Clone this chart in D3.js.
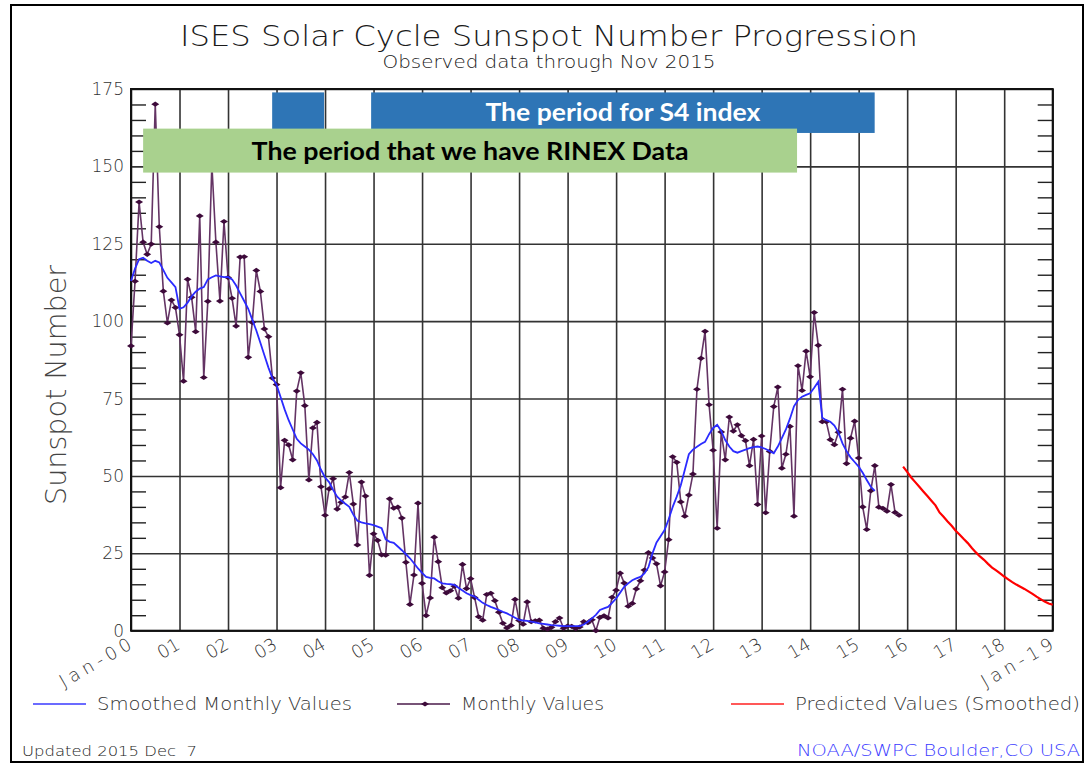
<!DOCTYPE html>
<html>
<head>
<meta charset="utf-8">
<script src="https://cdn.jsdelivr.net/npm/d3@7.9.0/dist/d3.min.js"></script>
<style>
  body { margin: 0; background: #fff; }
  svg text { font-family: "DejaVu Sans", sans-serif; white-space: pre; }
</style>
</head>
<body>
<svg id="chart" width="1087" height="765"></svg>
<script>
// ---- data ----
const xTickLabels = ['Jan-00', '01', '02', '03', '04', '05', '06', '07', '08', '09',
  '10', '11', '12', '13', '14', '15', '16', '17', '18', 'Jan-19'];
const yTicks = [0, 25, 50, 75, 100, 125, 150, 175];

// monthly values, Jan 2000 .. Nov 2015
const monthlyStart = 2000;
const monthlyValues = [
  92, 112.9, 138.5, 125.5, 121.6, 124.9, 170.1, 130.5, 109.7, 99.4, 106.8, 104.4,
  95.6, 80.6, 113.5, 107.7, 96.6, 134.0, 81.8, 106.4, 150.7, 125.5, 106.5, 132.2,
  114.1, 107.4, 98.4, 120.7, 120.8, 88.3, 99.6, 116.4, 109.6, 97.5, 95.0, 81.6,
  79.5, 46.2, 61.5, 60.0, 55.2, 77.4, 83.3, 72.7, 48.7, 65.5, 67.3, 46.5,
  37.3, 45.8, 49.1, 39.3, 41.5, 43.2, 51.1, 40.9, 27.7, 48.0, 43.5, 17.9,
  31.3, 29.2, 24.5, 24.4, 42.6, 39.6, 39.9, 36.4, 22.1, 8.5, 18.0, 41.2,
  15.3, 4.9, 10.6, 30.2, 22.3, 13.9, 12.2, 12.9, 14.4, 10.5, 21.4, 13.6,
  16.8, 10.7, 4.5, 3.4, 11.7, 12.1, 9.7, 6.0, 2.4, 0.9, 1.7, 10.1,
  3.3, 2.1, 9.3, 2.9, 3.2, 3.4, 0.8, 0.5, 1.1, 2.9, 4.1, 0.8,
  1.5, 1.4, 0.7, 1.2, 2.9, 2.6, 3.5, 0.0, 4.3, 4.8, 4.1, 10.8,
  13.1, 18.6, 15.4, 7.9, 8.8, 13.5, 16.1, 19.6, 25.2, 23.5, 21.6, 14.5,
  19.0, 29.4, 56.2, 54.4, 41.6, 37.0, 43.8, 50.6, 78.0, 88.0, 96.7, 73.0,
  58.3, 33.1, 64.2, 55.2, 69.0, 64.5, 66.5, 63.0, 61.4, 53.3, 61.8, 40.8,
  62.9, 38.1, 57.9, 72.4, 78.7, 52.5, 57.0, 66.0, 37.0, 85.6, 77.6, 90.3,
  82.0, 102.8, 92.2, 67.5, 67.5, 61.7, 60.1, 64.1, 78.0, 54.0, 62.2, 67.7,
  55.8, 40.0, 32.7, 45.2, 53.3, 39.9, 39.5, 38.6, 47.2, 38.2, 37.3
];

// smoothed monthly values, Jan 2000 .. May 2015
const smoothedStart = 2000;
const smoothedValues = [
  113, 117, 120, 120.5, 119.5, 118.8, 119.5, 119, 116.5, 114, 112.5, 111,
  104, 104.5, 106, 108, 109.5, 110.5, 111, 113.5, 114.2, 114.8, 114.5, 114.2,
  114.3, 113.5, 111.5, 109, 106.5, 104, 100.5, 97, 93, 89, 85, 81.5,
  79.5, 75.5, 71.5, 68, 65, 62, 60.5, 59.5, 58.5, 57, 55, 52,
  49.5, 48, 45.5, 43.3, 42, 41, 40, 37.5, 35.5, 35, 34.7, 34.4,
  34.1, 33.6, 33.1, 29.5, 28.7, 28.4, 27.2, 26, 24.7, 23.4, 21.8, 20.1,
  18.7, 17.4, 17.1, 16.9, 16, 15.3, 15.1, 15, 14.8, 13.9, 13, 12.1,
  11.5, 11, 10, 9, 8.3, 7.7, 7.2, 6.7, 6.1, 5.6, 4.9, 4.2,
  3.5, 3.3, 3.2, 2.9, 2.7, 2.4, 2.2, 2.0, 1.8, 1.7, 1.6, 1.5,
  1.5, 1.5, 1.5, 1.5, 2.0, 2.9, 4.0, 5.1, 6.7, 7.2, 7.7, 9.0,
  10.4, 12.3, 14.2, 15.3, 16.3, 16.9, 17.4, 18.5, 20.5, 25, 28.5, 30.5,
  32.5, 36, 40, 43.3, 47, 52, 57, 58.5, 59.4, 60.3, 61, 63.5,
  65.5, 66.5, 64.5, 61.6, 59.5, 58, 57.5, 58, 58.5, 59, 59.3, 59.5,
  59.2, 58.7, 58, 57.3, 59.5, 62.2, 65, 68.5, 72.5, 74.5, 75.6, 76.2,
  76.7, 78.5, 80.4, 68.8, 68, 67.5, 66.3, 64, 60.5, 58, 56, 54.5,
  53, 51, 48.7, 46.5, 45.2
];

// predicted (smoothed), Dec 2015 .. Jan 2019
const predictedStart = 2015 + 11 / 12;
const predictedValues = [
  53,
  51.3, 49.5, 48, 46.5, 45, 43.5, 42, 40.5, 38.2, 36.8, 35.3, 33.9,
  32.3, 31, 29.6, 28.3, 26.7, 25.3, 24, 22.9, 21.6, 20.4, 19.5, 18.5,
  17.5, 16.6, 15.7, 14.9, 14.2, 13.5, 12.7, 11.9, 11, 10.2, 9.4, 8.8,
  8.4
];

// periods marked on the chart (decimal years)
const rinexPeriod = [2000.25, 2013.73];
const s4Periods = [[2002.91, 2003.98], [2004.95, 2015.33]];

// ---- layout ----
const svg = d3.select('#chart');
const plotLeft = 131, plotTop = 89, plotRight = 1052.7, plotBottom = 630.7;

const x = d3.scaleLinear().domain([2000, 2019]).range([plotLeft, plotRight]);
const y = d3.scaleLinear().domain([0, 175]).range([plotBottom, plotTop]);

const toPoints = (start, vals) => vals.map((v, i) => ({ t: start + i / 12, v }));
const monthly = toPoints(monthlyStart, monthlyValues);
const smoothed = toPoints(smoothedStart, smoothedValues);
const predicted = toPoints(predictedStart, predictedValues);

// text helper: fit to a measured width by stretching glyphs
const fit = (sel, w) => sel.attr('textLength', w).attr('lengthAdjust', 'spacingAndGlyphs');

// outer frame
svg.append('rect')
  .attr('x', 11).attr('y', 5).attr('width', 1072).attr('height', 757)
  .attr('fill', 'none').attr('stroke', '#000').attr('stroke-width', 2);

// title
svg.append('text').attr('x', 549).attr('y', 46)
  .attr('text-anchor', 'middle').attr('font-size', 29).attr('font-weight', 200)
  .attr('fill', '#1a1a1a')
  .call(fit, 738)
  .text('ISES Solar Cycle Sunspot Number Progression');
svg.append('text').attr('x', 549).attr('y', 68)
  .attr('text-anchor', 'middle').attr('font-size', 18).attr('font-weight', 200)
  .attr('fill', '#1a1a1a')
  .call(fit, 333)
  .text('Observed data through Nov 2015');

// grid: vertical year lines
svg.append('g')
  .attr('transform', `translate(0,${plotBottom})`)
  .call(d3.axisBottom(x).tickValues(d3.range(2000, 2020)).tickSize(-(plotBottom - plotTop)).tickFormat(''))
  .call(g => g.select('.domain').remove())
  .call(g => g.selectAll('line').attr('stroke', '#333').attr('stroke-width', 1.6));

// grid: horizontal lines
svg.append('g')
  .attr('transform', `translate(${plotLeft},0)`)
  .call(d3.axisLeft(y).tickValues(yTicks).tickSize(-(plotRight - plotLeft)).tickFormat(''))
  .call(g => g.select('.domain').remove())
  .call(g => g.selectAll('line').attr('stroke', '#333').attr('stroke-width', 1.6));

// minor ticks every 5, both sides
const minor = d3.range(5, 175, 5).filter(v => v % 25 !== 0);
svg.append('g')
  .attr('transform', `translate(${plotLeft},0)`)
  .call(d3.axisRight(y).tickValues(minor).tickSize(15).tickFormat(''))
  .call(g => g.select('.domain').remove())
  .call(g => g.selectAll('line').attr('stroke', '#222').attr('stroke-width', 1.4));
svg.append('g')
  .attr('transform', `translate(${plotRight},0)`)
  .call(d3.axisLeft(y).tickValues(minor).tickSize(15).tickFormat(''))
  .call(g => g.select('.domain').remove())
  .call(g => g.selectAll('line').attr('stroke', '#222').attr('stroke-width', 1.4));

// y tick labels
svg.append('g').selectAll('text').data(yTicks).join('text')
  .attr('x', plotLeft - 7).attr('y', d => y(d) + 6)
  .attr('text-anchor', 'end').attr('font-size', 17).attr('font-weight', 200)
  .attr('fill', '#333').text(d => d);

// x tick labels (rotated)
svg.append('g').selectAll('text').data(xTickLabels).join('text')
  .attr('transform', (d, i) => `translate(${x(2000 + i) + 2},648) rotate(-30)`)
  .attr('text-anchor', 'end').attr('font-size', 18).attr('font-weight', 200)
  .attr('fill', '#333')
  .each(function (d) { if (d.length > 2) d3.select(this).attr('textLength', 80); })
  .text(d => d);

// y axis title
svg.append('text')
  .attr('transform', `translate(66,385) rotate(-90)`)
  .attr('text-anchor', 'middle').attr('font-size', 28).attr('font-weight', 200)
  .attr('fill', '#444')
  .call(fit, 240)
  .text('Sunspot Number');

// plot frame
svg.append('rect')
  .attr('x', plotLeft).attr('y', plotTop).attr('width', plotRight - plotLeft).attr('height', plotBottom - plotTop)
  .attr('fill', 'none').attr('stroke', '#111').attr('stroke-width', 2);

// monthly values
const line = d3.line().x(d => x(d.t)).y(d => y(d.v));
svg.append('path').datum(monthly)
  .attr('d', line).attr('fill', 'none')
  .attr('stroke', '#643464').attr('stroke-width', 1.6);
const diamond = 'M-4,0L0,-2.6L4,0L0,2.6Z';
svg.append('g').selectAll('path').data(monthly).join('path')
  .attr('d', diamond)
  .attr('transform', d => `translate(${x(d.t)},${y(d.v)})`)
  .attr('fill', '#3d0a3a');

// smoothed
svg.append('path').datum(smoothed)
  .attr('d', line).attr('fill', 'none')
  .attr('stroke', '#2b2bff').attr('stroke-width', 1.8);

// predicted
svg.append('path').datum(predicted)
  .attr('d', line).attr('fill', 'none')
  .attr('stroke', '#ff0000').attr('stroke-width', 2.2);

// period boxes
svg.append('g').selectAll('rect').data(s4Periods).join('rect')
  .attr('x', d => x(d[0])).attr('width', d => x(d[1]) - x(d[0]))
  .attr('y', y(173.9)).attr('height', y(160.8) - y(173.9))
  .attr('fill', '#2e75b6');
svg.append('rect')
  .attr('x', x(rinexPeriod[0])).attr('width', x(rinexPeriod[1]) - x(rinexPeriod[0]))
  .attr('y', y(162.2)).attr('height', y(148) - y(162.2))
  .attr('fill', '#a9d18e');
const lastS4 = s4Periods[s4Periods.length - 1];
svg.append('text')
  .attr('x', (x(lastS4[0]) + x(lastS4[1])) / 2).attr('y', 121)
  .attr('text-anchor', 'middle')
  .attr('font-weight', 700).attr('font-size', 24).attr('fill', '#fff')
  .call(fit, 275)
  .style('font-family', 'Lato, sans-serif')
  .text('The period for S4 index');
svg.append('text')
  .attr('x', (x(rinexPeriod[0]) + x(rinexPeriod[1])) / 2).attr('y', 160)
  .attr('text-anchor', 'middle')
  .attr('font-weight', 700).attr('font-size', 24).attr('fill', '#000')
  .call(fit, 437)
  .style('font-family', 'Lato, sans-serif')
  .text('The period that we have RINEX Data');

// legend
const legend = [
  { label: 'Smoothed Monthly Values', color: '#3a3aff', x0: 33, marker: false, len: 255 },
  { label: 'Monthly Values', color: '#4a1a4a', x0: 397, marker: true, len: 143 },
  { label: 'Predicted Values (Smoothed)', color: '#ff2020', x0: 731, marker: false, len: 285 }
];
const lg = svg.append('g').selectAll('g').data(legend).join('g')
  .attr('transform', d => `translate(${d.x0},704)`);
lg.append('line').attr('x1', 0).attr('x2', 53).attr('y1', 0).attr('y2', 0)
  .attr('stroke', d => d.color).attr('stroke-width', 1.6);
lg.filter(d => d.marker).append('path').attr('d', diamond)
  .attr('transform', 'translate(28,0)').attr('fill', '#3d0a3a');
lg.append('text').attr('x', 64).attr('y', 6)
  .attr('font-size', 17).attr('font-weight', 200).attr('fill', '#333')
  .attr('lengthAdjust', 'spacingAndGlyphs')
  .attr('textLength', d => d.len)
  .text(d => d.label);

// footer
svg.append('text').attr('x', 22).attr('y', 756)
  .attr('font-size', 14).attr('font-weight', 200).attr('fill', '#222')
  .call(fit, 175)
  .text('Updated 2015 Dec  7');
svg.append('text').attr('x', 1080).attr('y', 756)
  .attr('text-anchor', 'end').attr('font-size', 16).attr('font-weight', 200)
  .attr('fill', '#3b3bff')
  .call(fit, 283)
  .text('NOAA/SWPC Boulder,CO USA');
</script>
</body>
</html>
